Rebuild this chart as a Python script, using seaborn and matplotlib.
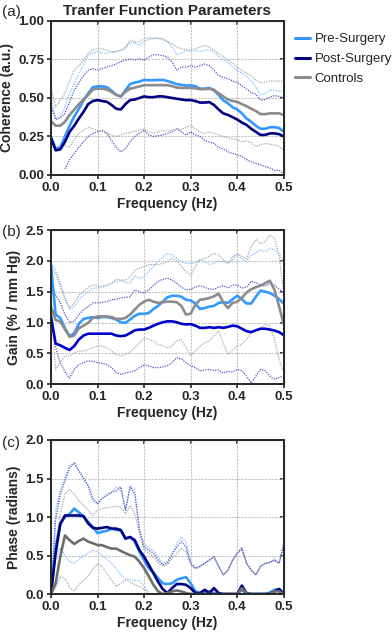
import numpy as np
import pandas as pd
import seaborn as sns
import matplotlib.pyplot as plt
from matplotlib.ticker import FormatStrFormatter

FREQ = np.round(np.arange(0, 0.501, 0.01), 2)
GROUPS = ["Pre-Surgery", "Post-Surgery", "Controls"]
nan = np.nan

# ---- (a) coherence ----
coh_pre = [0.25, 0.17, 0.18, 0.25, 0.32, 0.38, 0.43, 0.485, 0.53, 0.57,
           0.575, 0.575, 0.57, 0.548, 0.52, 0.51, 0.55, 0.59, 0.60, 0.606,
           0.617, 0.615, 0.615, 0.617, 0.617, 0.61, 0.60, 0.59, 0.585, 0.58,
           0.582, 0.577, 0.56, 0.56, 0.565, 0.55, 0.52, 0.485, 0.465, 0.44,
           0.425, 0.40, 0.367, 0.345, 0.32, 0.30, 0.30, 0.31, 0.31, 0.305, 0.28]
coh_post = [0.24, 0.16, 0.166, 0.215, 0.28, 0.32, 0.367, 0.41, 0.46, 0.48,
            0.486, 0.48, 0.475, 0.455, 0.43, 0.425, 0.46, 0.486, 0.49, 0.50,
            0.51, 0.505, 0.505, 0.51, 0.51, 0.505, 0.50, 0.495, 0.49, 0.486,
            0.486, 0.48, 0.47, 0.47, 0.473, 0.455, 0.425, 0.40, 0.39, 0.375,
            0.36, 0.34, 0.325, 0.30, 0.28, 0.26, 0.26, 0.27, 0.27, 0.265, 0.25]
coh_ctrl = [0.35, 0.32, 0.32, 0.345, 0.39, 0.425, 0.46, 0.49, 0.52, 0.555,
            0.56, 0.56, 0.555, 0.54, 0.52, 0.51, 0.54, 0.56, 0.567, 0.575,
            0.583, 0.583, 0.583, 0.583, 0.583, 0.583, 0.577, 0.567, 0.565, 0.565,
            0.565, 0.563, 0.557, 0.557, 0.56, 0.553, 0.53, 0.51, 0.49, 0.48,
            0.475, 0.46, 0.447, 0.43, 0.415, 0.395, 0.395, 0.40, 0.40, 0.40, 0.39]
coh_pre_up = [0.50, 0.37, 0.38, 0.44, 0.53, 0.59, 0.66, 0.71, 0.78, 0.79,
              0.80, 0.79, 0.79, 0.795, 0.80, 0.81, 0.82, 0.86, 0.86, 0.84,
              0.865, 0.88, 0.885, 0.89, 0.885, 0.865, 0.83, 0.78, 0.79, 0.81,
              0.80, 0.81, 0.80, 0.81, 0.81, 0.80, 0.77, 0.75, 0.73, 0.70,
              0.68, 0.66, 0.64, 0.61, 0.57, 0.52, 0.53, 0.55, 0.55, 0.545, 0.54]
coh_post_up = [0.45, 0.36, 0.37, 0.40, 0.475, 0.55, 0.60, 0.645, 0.68, 0.69,
               0.68, 0.69, 0.70, 0.71, 0.72, 0.735, 0.745, 0.755, 0.745, 0.755,
               0.745, 0.765, 0.78, 0.78, 0.775, 0.765, 0.735, 0.68, 0.70, 0.70,
               0.71, 0.70, 0.71, 0.72, 0.71, 0.68, 0.645, 0.635, 0.625, 0.61,
               0.60, 0.58, 0.557, 0.535, 0.525, 0.485, 0.49, 0.505, 0.515, 0.51, 0.50]
coh_ctrl_up = [0.57, 0.44, 0.485, 0.53, 0.61, 0.68, 0.71, 0.745, 0.79, 0.81,
               0.82, 0.82, 0.81, 0.80, 0.80, 0.81, 0.83, 0.875, 0.865, 0.865,
               0.885, 0.89, 0.89, 0.885, 0.88, 0.865, 0.853, 0.83, 0.82, 0.815,
               0.81, 0.82, 0.83, 0.84, 0.83, 0.81, 0.79, 0.77, 0.745, 0.725,
               0.70, 0.68, 0.66, 0.645, 0.615, 0.60, 0.60, 0.61, 0.61, 0.61, 0.61]
coh_post_lo = [nan, nan, nan, 0.04, 0.10, 0.14, 0.18, 0.215, 0.25, 0.27,
               0.28, 0.29, 0.27, 0.225, 0.18, 0.15, 0.17, 0.215, 0.25, 0.27,
               0.29, 0.26, 0.25, 0.255, 0.26, 0.27, 0.28, 0.30, 0.28, 0.26,
               0.28, 0.26, 0.25, 0.225, 0.215, 0.205, 0.18, 0.17, 0.15, 0.14,
               0.13, 0.12, 0.10, 0.085, 0.075, 0.065, 0.055, 0.045, 0.03, 0.03, 0.01]
coh_ctrl_lo = [nan, nan, 0.205, 0.19, 0.18, 0.23, 0.27, 0.29, 0.31, 0.30,
               0.29, 0.28, 0.27, 0.26, 0.25, 0.26, 0.27, 0.275, 0.285, 0.29,
               0.30, 0.28, 0.27, 0.28, 0.29, 0.285, 0.29, 0.30, 0.295, 0.31,
               0.32, 0.30, 0.28, 0.27, 0.28, 0.27, 0.26, 0.25, 0.24, 0.235,
               0.23, 0.215, 0.22, 0.21, 0.185, 0.195, 0.205, 0.20, 0.195, 0.185, 0.16]

# ---- (b) gain ----
gain_pre = [1.94, 1.13, 1.075, 0.91, 0.78, 0.83, 0.98, 1.06, 1.075, 1.09,
            1.075, 1.09, 1.09, 1.075, 1.05, 1.005, 0.995, 1.05, 1.11, 1.145,
            1.14, 1.155, 1.22, 1.27, 1.34, 1.41, 1.435, 1.435, 1.42, 1.37,
            1.36, 1.31, 1.22, 1.235, 1.26, 1.27, 1.32, 1.33, 1.32, 1.38,
            1.435, 1.38, 1.31, 1.31, 1.42, 1.52, 1.50, 1.48, 1.435, 1.38, 1.31]
gain_post = [1.10, 0.66, 0.63, 0.59, 0.555, 0.62, 0.725, 0.79, 0.82, 0.82,
             0.82, 0.82, 0.82, 0.82, 0.79, 0.78, 0.79, 0.83, 0.875, 0.887,
             0.887, 0.914, 0.95, 0.98, 1.005, 1.02, 1.02, 1.005, 0.98, 0.97,
             0.975, 0.95, 0.914, 0.914, 0.925, 0.914, 0.925, 0.914, 0.93, 0.95,
             0.94, 0.90, 0.86, 0.845, 0.875, 0.90, 0.90, 0.887, 0.87, 0.845, 0.795]
gain_ctrl = [1.26, 1.04, 1.02, 0.89, 0.77, 0.79, 0.91, 0.95, 0.995, 1.075,
             1.10, 1.10, 1.10, 1.09, 1.06, 1.06, 1.075, 1.13, 1.21, 1.29,
             1.34, 1.37, 1.34, 1.32, 1.33, 1.34, 1.34, 1.33, 1.27, 1.13,
             1.145, 1.29, 1.37, 1.38, 1.40, 1.425, 1.47, 1.33, 1.235, 1.32,
             1.34, 1.40, 1.49, 1.54, 1.575, 1.60, 1.64, 1.68, 1.53, 1.26, 0.97]
gain_pre_up = [1.96, 1.85, 1.64, 1.42, 1.21, 1.26, 1.37, 1.45, 1.50, 1.56,
               1.56, 1.575, 1.60, 1.64, 1.67, 1.68, 1.65, 1.64, 1.76, 1.72,
               1.75, 1.83, 1.91, 1.99, 2.07, 2.12, 2.10, 2.04, 1.99, 1.96,
               1.96, 1.97, 2.02, 1.99, 1.94, 1.96, 2.00, 1.99, 1.96, 2.07,
               2.12, 2.03, 1.99, 2.10, 2.13, 2.18, 2.15, 2.20, 2.18, 2.12, 1.96]
gain_post_up = [1.50, 1.45, 1.32, 1.13, 1.00, 1.02, 1.13, 1.21, 1.26, 1.32,
                1.32, 1.33, 1.34, 1.37, 1.38, 1.40, 1.41, 1.42, 1.53, 1.50,
                1.48, 1.53, 1.60, 1.67, 1.70, 1.72, 1.69, 1.64, 1.575, 1.53,
                1.54, 1.575, 1.60, 1.575, 1.54, 1.54, 1.575, 1.60, 1.56, 1.61,
                1.61, 1.56, 1.575, 1.67, 1.65, 1.61, 1.59, 1.64, 1.61, 1.54, 1.48]
gain_ctrl_up = [1.88, 1.80, 1.59, 1.37, 1.24, 1.32, 1.45, 1.50, 1.575, 1.61,
                1.60, 1.59, 1.61, 1.64, 1.70, 1.69, 1.69, 1.75, 1.85, 1.88,
                1.91, 1.94, 1.94, 1.94, 1.96, 1.99, 2.04, 2.00, 1.91, 1.83,
                1.77, 1.91, 2.02, 2.04, 2.08, 2.12, 2.10, 2.02, 1.96, 2.02,
                2.12, 2.08, 2.04, 2.23, 2.35, 2.28, 2.31, 2.42, 2.37, 2.07, 1.48]
gain_post_lo = [1.10, 0.60, 0.35, 0.20, 0.10, 0.24, 0.32, 0.35, 0.38, 0.37,
                0.35, 0.34, 0.32, 0.27, 0.19, 0.16, 0.18, 0.20, 0.215, 0.27,
                0.31, 0.30, 0.27, 0.27, 0.28, 0.30, 0.35, 0.43, 0.41, 0.35,
                0.30, 0.27, 0.215, 0.23, 0.24, 0.22, 0.23, 0.18, 0.21, 0.20,
                0.24, 0.22, 0.13, 0.02, 0.13, 0.24, 0.22, 0.13, 0.08, 0.11, 0.13]
gain_ctrl_lo = [1.30, 0.24, 0.35, 0.46, 0.46, 0.51, 0.54, 0.54, 0.56, 0.59,
                0.62, 0.62, 0.59, 0.54, 0.48, 0.46, 0.48, 0.52, 0.59, 0.67,
                0.75, 0.73, 0.70, 0.645, 0.62, 0.59, 0.62, 0.70, 0.73, 0.59,
                0.46, 0.54, 0.62, 0.67, 0.70, 0.78, 0.86, 0.67, 0.48, 0.56,
                0.62, 0.645, 0.73, 0.83, 0.89, 0.91, 0.97, 0.94, 0.73, 0.40, 0.19]

# ---- (c) phase ----
ph_pre = [0.0, 0.61, 0.91, 1.00, 1.04, 1.11, 1.06, 1.01, 0.935, 0.87,
          0.79, 0.81, 0.82, 0.85, 0.83, 0.83, 0.72, 0.74, 0.68, 0.55,
          0.44, 0.335, 0.28, 0.205, 0.14, 0.13, 0.14, 0.185, 0.205, 0.22,
          0.14, 0.035, 0.013, 0.02, 0.035, 0.013, 0.0, 0.0, 0.0, 0.0,
          0.0, 0.055, 0.0, 0.0, 0.0, 0.0, 0.0, 0.02, 0.055, 0.065, 0.01]
ph_post = [0.0, 0.53, 0.91, 1.02, 1.02, 1.02, 1.02, 1.01, 0.915, 0.86,
           0.85, 0.86, 0.87, 0.85, 0.85, 0.83, 0.72, 0.74, 0.70, 0.57,
           0.485, 0.38, 0.27, 0.16, 0.065, 0.013, 0.077, 0.13, 0.13, 0.12,
           0.077, 0.013, 0.013, 0.055, 0.013, 0.077, 0.013, 0.0, 0.0, 0.0,
           0.0, 0.11, 0.01, 0.0, 0.0, 0.0, 0.0, 0.0, 0.035, 0.065, 0.0]
ph_ctrl = [0.0, 0.14, 0.485, 0.76, 0.70, 0.65, 0.69, 0.72, 0.68, 0.66,
           0.635, 0.635, 0.61, 0.59, 0.59, 0.56, 0.53, 0.505, 0.485, 0.42,
           0.335, 0.23, 0.12, 0.035, 0.0, 0.013, 0.035, 0.047, 0.035, 0.013,
           0.0, 0.0, 0.0, 0.0, 0.0, 0.0, 0.0, 0.0, 0.0, 0.0,
           0.0, 0.077, 0.005, 0.0, 0.0, 0.0, 0.0, 0.0, 0.035, 0.035, 0.0]
ph_pre_up = [0.0, 1.09, 1.34, 1.51, 1.67, 1.71, 1.60, 1.49, 1.39, 1.21,
             1.17, 1.25, 1.30, 1.32, 1.39, 1.35, 1.09, 1.41, 1.35, 0.83,
             0.66, 0.59, 0.57, 0.485, 0.40, 0.42, 0.53, 0.66, 0.74, 0.68,
             0.42, 0.335, 0.36, 0.40, 0.44, 0.485, 0.36, 0.25, 0.31, 0.44,
             0.53, 0.57, 0.40, 0.31, 0.25, 0.36, 0.40, 0.41, 0.46, 0.40, 0.66]
ph_post_up = [0.0, 0.96, 1.30, 1.47, 1.64, 1.70, 1.60, 1.51, 1.41, 1.24,
              1.17, 1.24, 1.28, 1.32, 1.34, 1.39, 1.09, 1.39, 1.30, 0.83,
              0.61, 0.57, 0.53, 0.44, 0.38, 0.40, 0.51, 0.61, 0.68, 0.61,
              0.40, 0.335, 0.36, 0.40, 0.44, 0.485, 0.36, 0.25, 0.31, 0.44,
              0.53, 0.59, 0.40, 0.31, 0.25, 0.36, 0.40, 0.41, 0.44, 0.40, 0.66]
ph_ctrl_up = [0.0, 0.61, 1.04, 1.30, 1.36, 1.30, 1.21, 1.15, 1.09, 1.02,
              1.09, 1.11, 1.12, 1.13, 1.14, 1.13, 1.04, 1.15, 1.04, 0.79,
              0.57, 0.53, 0.485, 0.40, 0.36, 0.38, 0.46, 0.53, 0.59, 0.55,
              0.38, 0.33, 0.35, 0.40, 0.44, 0.48, 0.36, 0.25, 0.31, 0.44,
              0.53, 0.61, 0.40, 0.31, 0.25, 0.36, 0.40, 0.41, 0.44, 0.40, 0.62]
ph_pre_lo = [0.0, 0.45, 0.60, 0.50, 0.42, 0.40, 0.45, 0.50, 0.53, 0.57,
             0.55, 0.50, 0.45, 0.40, 0.33, 0.25, 0.20, 0.19, 0.18, 0.17,
             0.10, 0.02, nan, nan, nan, nan, nan, nan, nan, nan,
             nan, nan, nan, nan, nan, nan, nan, nan, nan, nan,
             nan, nan, nan, nan, nan, nan, nan, nan, nan, nan, nan]
ph_ctrl_lo = [0.0, 0.08, 0.23, 0.20, 0.08, 0.04, 0.12, 0.18, 0.23, 0.33,
              0.39, 0.36, 0.27, 0.18, 0.10, 0.14, 0.18, 0.16, 0.12, 0.10,
              0.06, 0.01, nan, nan, nan, nan, nan, nan, nan, nan,
              nan, nan, nan, nan, nan, nan, nan, nan, nan, nan,
              nan, nan, nan, nan, nan, nan, nan, nan, nan, nan, nan]

C_PRE = "#3399ff"
C_PRE_D = "#7fbfff"
C_POST_D = "#5a50c8"
C_CTRL_D = "#a8a8a8"

sns.set_style("ticks")
plt.rcParams["font.family"] = ["Liberation Sans", "DejaVu Sans"]
plt.rcParams["font.weight"] = "bold"

fig = plt.figure(figsize=(3.92, 6.34), dpi=100)
L, W, H = 0.130, 0.594, 0.243
axes = [fig.add_axes([L, 0.724, W, H]),
        fig.add_axes([L, 0.394, W, H]),
        fig.add_axes([L, 0.063, W, H])]

panels = [
    dict(mean=[coh_pre, coh_post, coh_ctrl],
         dots=[(coh_pre_up, C_PRE_D), (coh_post_up, C_POST_D), (coh_ctrl_up, C_CTRL_D),
               (coh_post_lo, C_POST_D), (coh_ctrl_lo, C_CTRL_D)],
         colors=[C_PRE, "#000080", "#8c8c8c"],
         ylim=(0, 1.0), yticks=np.arange(0, 1.01, 0.25), fmt="%.2f",
         ylabel="Coherence (a.u.)", tag="(a)", tag_y=12),
    dict(mean=[gain_pre, gain_post, gain_ctrl],
         dots=[(gain_pre_up, C_PRE_D), (gain_post_up, C_POST_D), (gain_ctrl_up, C_CTRL_D),
               (gain_post_lo, C_POST_D), (gain_ctrl_lo, C_CTRL_D)],
         colors=[C_PRE, "#0000c8", "#8c8c8c"],
         ylim=(0, 2.5), yticks=np.arange(0, 2.51, 0.5), fmt="%.1f",
         ylabel="Gain (% / mm Hg)", tag="(b)", tag_y=232),
    dict(mean=[ph_pre, ph_post, ph_ctrl],
         dots=[(ph_pre_up, C_PRE_D), (ph_ctrl_up, C_CTRL_D), (ph_post_up, C_POST_D),
               (ph_pre_lo, C_PRE_D), (ph_ctrl_lo, C_CTRL_D)],
         colors=[C_PRE, "#000080", "#6e6e6e"],
         ylim=(0, 2.0), yticks=np.arange(0, 2.01, 0.5), fmt="%.1f",
         ylabel="Phase (radians)", tag="(c)", tag_y=443),
]

for ax, p in zip(axes, panels):
    for vals, col in p["dots"]:
        sns.lineplot(x=FREQ, y=np.array(vals, dtype=float), ax=ax, color=col,
                     lw=0.9, linestyle=(0, (1, 1)))
    for vals, col, name in zip(p["mean"], p["colors"], GROUPS):
        sns.lineplot(x=FREQ, y=vals, ax=ax, color=col, lw=1.9, legend=False)

    ax.set_xlim(0, 0.5)
    ax.set_ylim(*p["ylim"])
    ax.set_xticks(np.arange(0, 0.51, 0.1))
    ax.set_yticks(p["yticks"])
    ax.xaxis.set_major_formatter(FormatStrFormatter("%.1f"))
    ax.yaxis.set_major_formatter(FormatStrFormatter(p["fmt"]))
    ax.grid(True, color="#c4c4c4", lw=0.8, linestyle=(0, (2, 1)))
    for s in ax.spines.values():
        s.set_linewidth(1.4)
        s.set_visible(True)
    ax.tick_params(direction="out", length=3, width=1.2, labelsize=9.5, pad=2)
    for lab in ax.get_xticklabels() + ax.get_yticklabels():
        lab.set_fontweight("bold")
    top = ax.secondary_xaxis("top")
    top.set_xticks(np.arange(0, 0.51, 0.1))
    top.tick_params(direction="in", length=3, width=1.2, labeltop=False)
    right = ax.secondary_yaxis("right")
    right.set_yticks(p["yticks"])
    right.tick_params(direction="in", length=3, width=1.2, labelright=False)
    ax.set_xlabel("Frequency (Hz)", fontsize=10, fontweight="bold", labelpad=2)
    ax.set_ylabel(p["ylabel"], fontsize=10, fontweight="bold", labelpad=3)
    fig.text(2 / 392, 1 - p["tag_y"] / 634, p["tag"], fontsize=11,
             fontweight="normal", ha="left", va="center")

axes[0].set_title("Tranfer Function Parameters", fontsize=11, fontweight="bold", pad=4)

handles = [plt.Line2D([], [], color=c, lw=2.2) for c in ["#3399ff", "#000080", "#8c8c8c"]]
leg = fig.legend(handles, GROUPS, loc="upper left", bbox_to_anchor=(295 / 392, 1 - 33 / 634),
                 frameon=False, borderpad=0, borderaxespad=0, handlelength=1.15,
                 handletextpad=0.35, labelspacing=0.58,
                 prop={"size": 9.5, "weight": "normal"})

fig.savefig("out.png", dpi=100)
